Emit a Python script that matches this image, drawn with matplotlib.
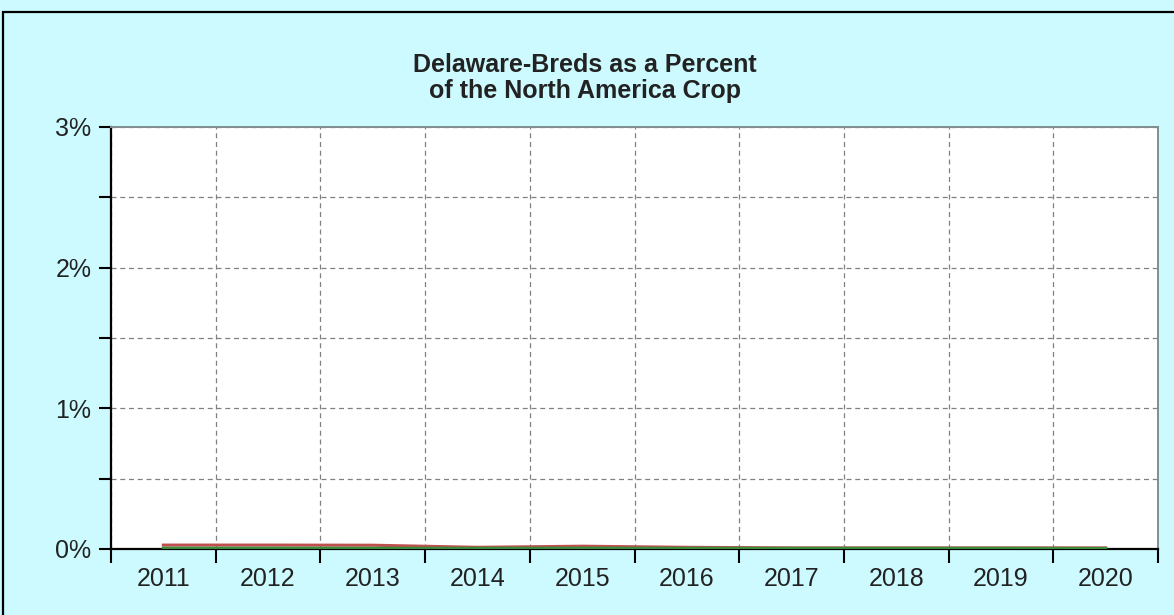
import numpy as np
import matplotlib.pyplot as plt
from matplotlib.patches import Rectangle
from matplotlib.ticker import FixedLocator, FuncFormatter

plt.rcParams['font.family'] = ['Liberation Sans', 'DejaVu Sans']

years = ["2011", "2012", "2013", "2014", "2015", "2016", "2017", "2018", "2019", "2020"]
# percent of North America crop
delaware_pct = [0.028, 0.028, 0.027, 0.012, 0.020, 0.012, 0.008, 0.008, 0.008, 0.008]
other_pct = [0.006, 0.006, 0.006, 0.005, 0.006, 0.005, 0.005, 0.005, 0.005, 0.004]

fig = plt.figure(figsize=(11.74, 6.15), dpi=100)
fig.patch.set_facecolor("#ccfaff")

# outer frame
fig.patches.append(Rectangle((3, -10), 1200, 613, transform=None, fill=False,
                             edgecolor="black", linewidth=1.6))

ax = fig.add_axes([111 / 1174, 66 / 615, 1047 / 1174, 422 / 615])
ax.set_facecolor("white")

x = np.arange(len(years))
ax.plot(x, delaware_pct, color="#c0504d", linewidth=2.2, zorder=3)
ax.plot(x, other_pct, color="#3c8a3c", linewidth=2.2, zorder=3)

ax.set_xlim(-0.5, len(years) - 0.5)
ax.set_ylim(0, 3)

ax.xaxis.set_major_locator(FixedLocator(x))
ax.set_xticklabels(years)
ax.xaxis.set_minor_locator(FixedLocator(np.arange(-0.5, len(years), 1.0)))
ax.tick_params(axis="x", which="major", length=0, pad=13, labelsize=18, colors="#222222")
ax.tick_params(axis="x", which="minor", length=10, width=1.5, color="black")

ax.yaxis.set_major_locator(FixedLocator([0, 1, 2, 3]))
ax.yaxis.set_minor_locator(FixedLocator([0.5, 1.5, 2.5]))
ax.yaxis.set_major_formatter(FuncFormatter(lambda v, p: f"{v:.0f}%"))
ax.tick_params(axis="y", which="both", length=9, width=1.5, color="black",
               labelsize=18, labelcolor="#222222", pad=5)

ax.grid(True, which="both", axis="y", linestyle=(0, (4, 3)), color="#808080", linewidth=0.9)
ax.grid(True, which="minor", axis="x", linestyle=(0, (4, 3)), color="#808080", linewidth=0.9)
ax.set_axisbelow(True)

for side in ["left", "bottom"]:
    ax.spines[side].set_linewidth(1.6)
    ax.spines[side].set_color("black")
for side in ["top", "right"]:
    ax.spines[side].set_linewidth(1.4)
    ax.spines[side].set_color("#7f8f8f")

fig.text(585 / 1174, 1 - 78 / 615, "Delaware-Breds as a Percent\nof the North America Crop",
         ha="center", va="center", fontsize=18, fontweight="bold", color="#222222",
         linespacing=1.15)

fig.savefig("out.png", dpi=100, facecolor=fig.get_facecolor())
